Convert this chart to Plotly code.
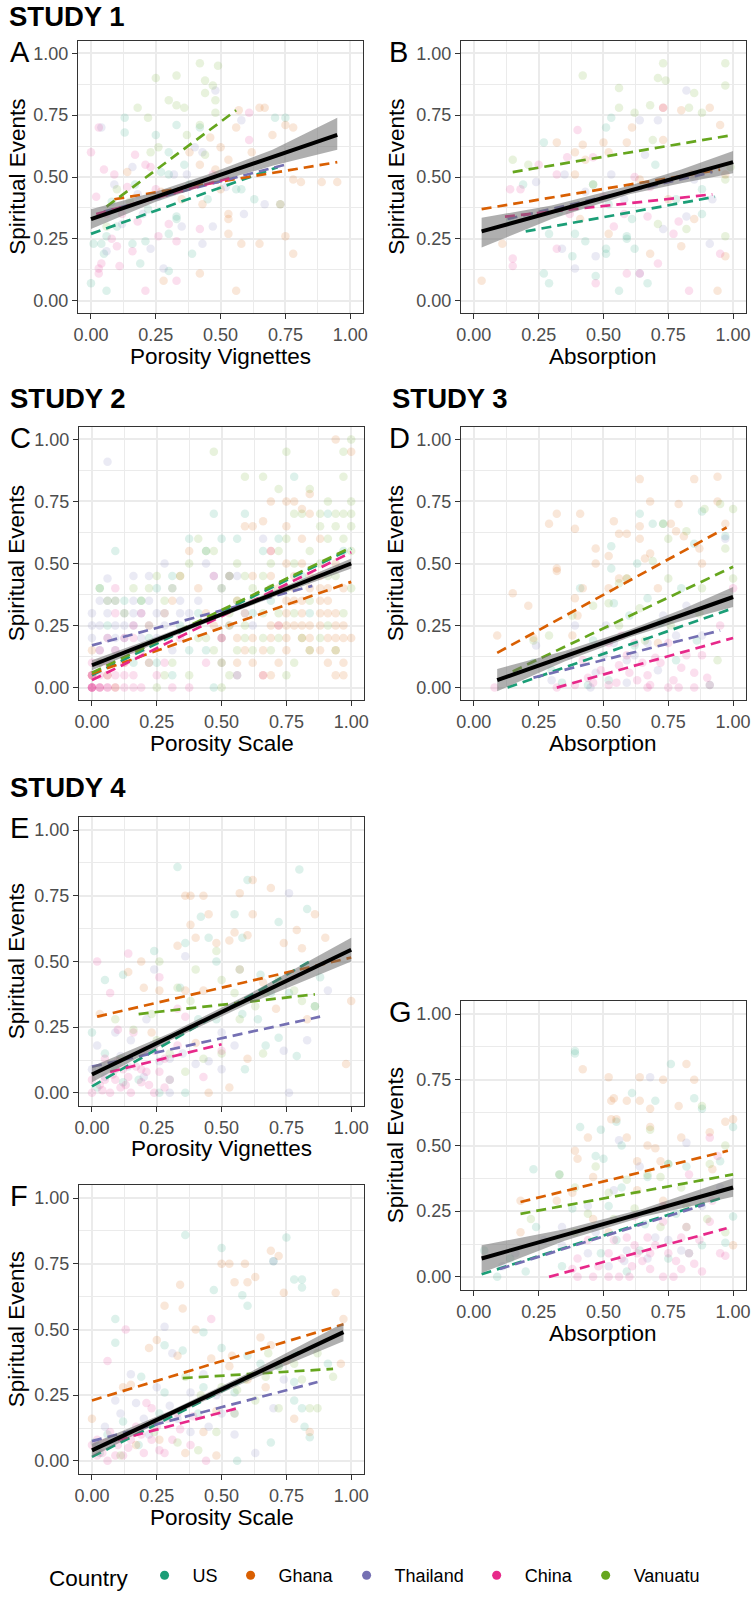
import plotly.graph_objects as go

W, H = 756, 1599
FONT = "Liberation Sans, Arial, sans-serif"

COUNTRIES = ["US", "Ghana", "Thailand", "China", "Vanuatu"]
COLORS = ["#1B9E77", "#D95F02", "#7570B3", "#E7298A", "#66A61E"]
TICK_VALS = [0, 0.25, 0.5, 0.75, 1.0]
TICK_TEXT = ["0.00", "0.25", "0.50", "0.75", "1.00"]
MINOR_TICKS = [0.125, 0.375, 0.625, 0.875]

# ---------------- Panel A : Study 1, Porosity Vignettes ----------------
A_US = [(0.13,0.74),(0.25,0.67),(0.33,0.71),(0.42,0.70),(0.30,0.60),(0.30,0.51),(0.13,0.68),(0.33,0.34),(0.33,0.33),(0.39,0.19),(0.56,0.45),(0.58,0.45),(0.63,0.41),(0.71,0.74),(0.75,0.74),(0.73,0.39),(0.06,0.26),(0.05,0.19),(0.00,0.07),(0.06,0.04),(0.04,0.23),(0.19,0.15),(0.21,0.24),(0.30,0.27),(0.01,0.23),(0.16,0.23),(0.30,0.12),(0.17,0.47),(0.36,0.55),(0.08,0.40),(0.10,0.30),(0.22,0.37),(0.27,0.52),(0.38,0.47),(0.45,0.41)]
A_GHANA = [(0.57,0.77),(0.65,0.78),(0.67,0.78),(0.75,0.71),(0.78,0.70),(0.56,0.70),(0.38,0.60),(0.42,0.55),(0.48,0.53),(0.50,0.62),(0.53,0.57),(0.78,0.49),(0.81,0.48),(0.89,0.48),(0.95,0.48),(0.73,0.39),(0.50,0.45),(0.53,0.35),(0.53,0.33),(0.53,0.27),(0.58,0.23),(0.65,0.23),(0.75,0.26),(0.78,0.19),(0.56,0.04),(0.42,0.11),(0.28,0.08),(0.35,0.41),(0.43,0.39),(0.70,0.67),(0.62,0.60),(0.46,0.66),(0.14,0.52),(0.27,0.44)]
A_THAILAND = [(0.04,0.70),(0.48,0.85),(0.58,0.73),(0.43,0.60),(0.32,0.51),(0.37,0.51),(0.26,0.42),(0.47,0.30),(0.20,0.35),(0.16,0.54),(0.59,0.35),(0.67,0.39),(0.43,0.23),(0.12,0.31),(0.28,0.13),(0.23,0.21),(0.40,0.62),(0.09,0.47),(0.06,0.20),(0.18,0.43),(0.35,0.30),(0.52,0.46)]
A_CHINA = [(0.00,0.60),(0.03,0.70),(0.05,0.53),(0.09,0.51),(0.17,0.59),(0.21,0.55),(0.03,0.13),(0.03,0.11),(0.11,0.14),(0.21,0.04),(0.23,0.54),(0.25,0.45),(0.33,0.24),(0.33,0.08),(0.30,0.31),(0.47,0.51),(0.61,0.76),(0.61,0.65),(0.42,0.29),(0.06,0.35),(0.04,0.15),(0.12,0.35),(0.08,0.25),(0.16,0.20),(0.02,0.42),(0.10,0.22),(0.18,0.32),(0.26,0.26),(0.14,0.46)]
A_VANUATU = [(0.42,0.96),(0.49,0.95),(0.33,0.91),(0.25,0.90),(0.44,0.89),(0.47,0.87),(0.44,0.84),(0.30,0.81),(0.33,0.79),(0.18,0.78),(0.48,0.81),(0.22,0.74),(0.36,0.78),(0.37,0.67),(0.42,0.71),(0.48,0.76),(0.26,0.62),(0.23,0.60),(0.44,0.59),(0.06,0.30),(0.10,0.45),(0.15,0.40)]
A_LINES = [(0.00,0.27,0.72,0.54),(0.09,0.41,0.95,0.56),(0.05,0.36,0.75,0.55),(0.02,0.35,0.55,0.50),(0.06,0.38,0.56,0.77)]
A_FIT = (0.00, 0.33, 0.95, 0.67)
A_CI_X = [0.00, 0.25, 0.45, 0.70, 0.95]
A_CI_LO = [0.29, 0.40, 0.47, 0.545, 0.61]
A_CI_HI = [0.37, 0.44, 0.51, 0.61, 0.74]

# ---------------- Panel B : Study 1, Absorption ----------------
B_US = [(0.53,0.74),(0.51,0.70),(0.27,0.64),(0.29,0.27),(0.38,0.18),(0.27,0.11),(0.29,0.07),(0.51,0.19),(0.56,0.04),(0.51,0.21),(0.59,0.26),(0.59,0.25),(0.67,0.07),(0.78,0.41),(0.88,0.35),(0.88,0.45),(0.47,0.10),(0.62,0.21),(0.19,0.47),(0.14,0.33),(0.39,0.27),(0.46,0.47),(0.52,0.39),(0.33,0.36),(0.43,0.24),(0.61,0.33),(0.70,0.55)]
B_GHANA = [(0.03,0.08),(0.11,0.23),(0.32,0.64),(0.39,0.60),(0.42,0.63),(0.50,0.64),(0.43,0.57),(0.52,0.60),(0.59,0.64),(0.61,0.70),(0.73,0.78),(0.80,0.77),(0.91,0.78),(0.95,0.71),(0.97,0.51),(0.97,0.18),(0.94,0.04),(0.80,0.22),(0.68,0.19),(0.52,0.27),(0.41,0.33),(0.39,0.51),(0.85,0.33),(0.75,0.41),(0.73,0.65),(0.64,0.49),(0.84,0.51)]
B_THAILAND = [(0.82,0.85),(0.64,0.73),(0.71,0.73),(0.35,0.51),(0.53,0.51),(0.24,0.48),(0.92,0.41),(0.91,0.23),(0.73,0.29),(0.64,0.11),(0.34,0.21),(0.39,0.13),(0.82,0.34),(0.85,0.49),(0.47,0.18),(0.58,0.41),(0.66,0.59),(0.43,0.44)]
B_CHINA = [(0.14,0.45),(0.18,0.45),(0.15,0.17),(0.15,0.14),(0.40,0.69),(0.46,0.58),(0.25,0.55),(0.32,0.51),(0.32,0.21),(0.47,0.07),(0.59,0.11),(0.64,0.11),(0.67,0.34),(0.68,0.46),(0.71,0.15),(0.83,0.04),(0.95,0.19),(0.79,0.32),(0.73,0.78),(0.62,0.50),(0.37,0.35),(0.54,0.30),(0.36,0.58),(0.50,0.42),(0.58,0.35),(0.77,0.27)]
B_VANUATU = [(0.97,0.96),(0.97,0.87),(0.73,0.96),(0.71,0.90),(0.74,0.89),(0.42,0.91),(0.56,0.86),(0.85,0.84),(0.68,0.79),(0.83,0.78),(0.88,0.76),(0.56,0.78),(0.62,0.76),(0.97,0.49),(0.99,0.54),(0.69,0.65),(0.15,0.57),(0.21,0.55),(0.97,0.26),(0.82,0.29),(0.71,0.31),(0.46,0.47)]
B_LINES = [(0.20,0.28,0.93,0.42),(0.03,0.37,0.95,0.53),(0.13,0.33,0.92,0.52),(0.12,0.34,0.92,0.43),(0.15,0.52,1.00,0.67)]
B_FIT = (0.03, 0.28, 1.00, 0.56)
B_CI_X = [0.03, 0.30, 0.60, 0.80, 1.00]
B_CI_LO = [0.215, 0.33, 0.43, 0.475, 0.515]
B_CI_HI = [0.335, 0.385, 0.465, 0.53, 0.605]

# ---------------- Panel C : Study 2, Porosity Scale ----------------
C_US = [(0.03,0.40),(0.09,0.55),(0.19,0.35),(0.25,0.40),(0.31,0.45),(0.375,0.60),(0.44,0.55),(0.47,0.70),(0.50,0.60),(0.53,0.45),(0.56,0.60),(0.59,0.70),(0.66,0.55),(0.78,0.85),(0.72,0.60),(0.375,0.15),(0.44,0.15),(0.25,0.10),(0.31,0.05),(0.50,0.10),(0.56,0.05),(0.62,0.30),(0.69,0.35),(0.81,0.45),(0.84,0.30),(0.91,0.70),(0.97,0.55),(0.22,0.20),(0.16,0.10),(0.125,0.35),(0.06,0.25),(0.34,0.25),(0.41,0.30),(0.47,0.00),(0.53,0.25)]
C_GHANA = [(1.00,0.95),(0.94,1.00),(0.84,0.78),(0.75,0.75),(0.78,0.75),(0.81,0.72),(0.84,0.70),(0.88,0.60),(0.59,0.65),(0.62,0.65),(0.66,0.67),(0.69,0.55),(0.75,0.50),(0.78,0.45),(0.81,0.50),(0.84,0.45),(0.88,0.40),(0.91,0.35),(0.94,0.30),(0.97,0.25),(1.00,0.20),(0.50,0.20),(0.53,0.25),(0.56,0.20),(0.59,0.15),(0.62,0.10),(0.66,0.05),(0.69,0.20),(0.72,0.25),(0.75,0.30),(0.78,0.25),(0.81,0.20),(0.84,0.25),(0.88,0.25),(0.91,0.20),(0.94,0.15),(0.97,0.10),(0.75,0.15),(0.72,0.10),(0.69,0.05),(0.66,0.15),(0.59,0.30),(0.56,0.35),(0.44,0.30),(0.41,0.40),(0.375,0.55),(0.34,0.45),(0.31,0.35),(0.28,0.30),(0.22,0.25),(0.00,0.15),(0.00,0.05),(0.03,0.10),(0.06,0.05),(0.09,0.00),(0.125,0.10),(0.78,0.35),(0.84,0.15),(0.94,0.20),(0.75,0.20),(0.81,0.30),(0.88,0.30),(0.91,0.40),(0.97,0.40),(0.62,0.45),(0.69,0.45),(0.72,0.40),(0.75,0.25),(0.81,0.25),(0.84,0.20),(0.88,0.15),(0.94,0.05),(0.97,0.05),(0.91,0.10),(0.56,0.10),(0.50,0.10),(0.47,0.25),(0.62,0.20),(0.69,0.25),(0.75,0.35),(0.78,0.40),(0.81,0.35),(0.84,0.40),(0.88,0.35),(0.91,0.30),(0.94,0.25),(0.97,0.20),(0.88,0.45),(0.94,0.50),(0.81,0.60),(0.75,0.65),(0.69,0.75)]
C_THAILAND = [(0.06,0.91),(0.00,0.30),(0.00,0.25),(0.03,0.25),(0.03,0.35),(0.06,0.30),(0.06,0.44),(0.09,0.25),(0.09,0.35),(0.125,0.30),(0.16,0.45),(0.16,0.25),(0.19,0.30),(0.22,0.35),(0.25,0.30),(0.28,0.30),(0.31,0.40),(0.34,0.35),(0.375,0.30),(0.41,0.35),(0.47,0.45),(0.50,0.40),(0.56,0.45),(0.59,0.30),(0.62,0.25),(0.03,0.15),(0.06,0.20),(0.125,0.20),(0.19,0.20),(0.25,0.20),(0.31,0.15),(0.50,0.20),(0.22,0.45),(0.28,0.50),(0.44,0.50),(0.66,0.60),(0.03,0.10),(0.09,0.15),(0.125,0.25),(0.16,0.35),(0.00,0.20),(0.34,0.30),(0.09,0.20),(0.16,0.30),(0.22,0.25),(0.28,0.25),(0.06,0.35)]
C_CHINA = [(0.00,0.00),(0.00,0.00),(0.00,0.00),(0.00,0.00),(0.03,0.00),(0.03,0.00),(0.06,0.00),(0.06,0.00),(0.09,0.00),(0.125,0.00),(0.16,0.00),(0.19,0.00),(0.00,0.05),(0.00,0.05),(0.03,0.05),(0.06,0.05),(0.09,0.05),(0.125,0.05),(0.16,0.05),(0.00,0.10),(0.06,0.10),(0.09,0.15),(0.125,0.20),(0.16,0.20),(0.19,0.15),(0.03,0.15),(0.22,0.10),(0.25,0.05),(0.31,0.00),(0.375,0.00),(0.06,0.20),(0.09,0.30),(0.16,0.25),(0.19,0.30),(0.28,0.10),(0.34,0.20),(0.44,0.10),(0.50,0.20),(0.56,0.05),(0.66,0.05),(0.69,0.55),(0.72,0.25),(0.09,0.40),(0.53,0.45),(0.47,0.45),(0.00,0.00),(0.03,0.00),(0.00,0.05),(0.125,0.10),(0.16,0.15)]
C_VANUATU = [(0.47,0.95),(0.75,0.95),(0.97,0.95),(0.59,0.85),(0.66,0.85),(0.97,0.85),(0.72,0.80),(0.84,0.80),(0.91,0.75),(1.00,1.00),(1.00,0.75),(1.00,0.70),(1.00,0.65),(0.97,0.70),(0.94,0.70),(0.88,0.65),(0.91,0.60),(0.81,0.70),(0.78,0.70),(0.75,0.60),(0.72,0.55),(0.69,0.50),(0.66,0.45),(0.62,0.40),(0.59,0.45),(0.56,0.35),(0.53,0.45),(0.50,0.40),(0.47,0.55),(0.44,0.55),(0.41,0.60),(0.375,0.50),(0.34,0.45),(0.31,0.40),(0.28,0.35),(0.25,0.45),(0.22,0.40),(0.19,0.35),(0.16,0.40),(0.125,0.30),(0.09,0.35),(0.06,0.35),(0.03,0.40),(0.91,0.25),(0.94,0.15),(0.88,0.20),(0.84,0.15),(0.81,0.20),(0.78,0.10),(0.75,0.05),(0.72,0.20),(0.69,0.15),(0.66,0.20),(0.62,0.15),(0.59,0.20),(0.56,0.15),(0.53,0.05),(0.50,0.00),(0.47,0.15),(0.44,0.20),(0.41,0.20),(0.375,0.05),(0.31,0.10),(0.28,0.05),(0.25,0.00),(0.22,0.10),(0.97,0.30),(1.00,0.40),(0.94,0.45),(0.84,0.35),(0.78,0.30),(0.72,0.30),(0.66,0.30),(0.59,0.25),(0.53,0.30),(1.00,0.55),(0.97,0.60),(0.88,0.50),(0.75,0.40),(0.69,0.40),(0.62,0.35),(0.56,0.50),(0.88,0.70),(0.94,0.65),(0.84,0.55),(0.78,0.50),(0.91,0.45)]
C_LINES = [(0.00,0.05,1.00,0.56),(0.00,0.056,1.00,0.426),(0.00,0.17,0.85,0.41),(0.00,0.03,1.00,0.545),(0.00,0.06,1.00,0.565)]
C_FIT = (0.00, 0.09, 1.00, 0.50)
C_CI_X = [0.00, 0.25, 0.50, 0.75, 1.00]
C_CI_LO = [0.07, 0.18, 0.285, 0.385, 0.48]
C_CI_HI = [0.11, 0.205, 0.305, 0.41, 0.52]

# ---------------- Panel D : Study 3, Absorption ----------------
D_US = [(0.64,0.70),(0.69,0.66),(0.73,0.66),(0.53,0.57),(0.53,0.48),(0.41,0.40),(0.54,0.34),(0.63,0.50),(0.67,0.36),(0.85,0.58),(0.88,0.71),(0.97,0.61),(0.23,0.10),(0.30,0.07),(0.34,0.02),(0.44,0.01),(0.52,0.03),(0.91,0.01),(0.86,0.19),(0.78,0.11),(0.62,0.17),(0.46,0.19),(0.72,0.26),(0.80,0.40),(0.60,0.29)]
D_GHANA = [(0.09,0.21),(0.15,0.38),(0.21,0.33),(0.29,0.66),(0.32,0.70),(0.41,0.70),(0.39,0.64),(0.32,0.48),(0.32,0.47),(0.39,0.36),(0.40,0.29),(0.38,0.21),(0.47,0.56),(0.47,0.50),(0.52,0.53),(0.54,0.67),(0.56,0.62),(0.56,0.44),(0.59,0.62),(0.64,0.84),(0.64,0.65),(0.64,0.60),(0.68,0.75),(0.68,0.54),(0.71,0.40),(0.76,0.66),(0.79,0.74),(0.78,0.63),(0.81,0.61),(0.85,0.84),(0.87,0.56),(0.88,0.50),(0.94,0.85),(0.94,0.75),(0.97,0.66),(0.52,0.40),(0.59,0.44),(0.42,0.40),(0.23,0.20),(0.66,0.52),(0.71,0.18)]
D_THAILAND = [(0.24,0.17),(0.39,0.25),(0.45,0.00),(0.51,0.25),(0.54,0.18),(0.59,0.11),(0.67,0.18),(0.73,0.29),(0.82,0.33),(0.97,0.60),(0.37,0.13),(0.47,0.06),(0.59,0.02),(0.71,0.07),(0.88,0.21),(0.30,0.03),(0.62,0.13),(0.78,0.21),(0.50,0.13)]
D_CHINA = [(0.08,0.00),(0.32,0.00),(0.39,0.01),(0.44,0.04),(0.49,0.07),(0.52,0.01),(0.56,0.09),(0.59,0.13),(0.63,0.03),(0.67,0.05),(0.68,0.01),(0.72,0.10),(0.75,0.18),(0.77,0.03),(0.79,0.00),(0.82,0.13),(0.85,0.06),(0.88,0.13),(0.91,0.01),(0.95,0.25),(1.00,0.40),(0.42,0.11),(0.57,0.21),(0.67,0.00),(0.52,0.18),(0.75,0.00),(0.85,0.00),(0.62,0.18),(0.46,0.02),(0.55,0.02),(0.60,0.06),(0.70,0.12),(0.80,0.08),(0.90,0.04),(0.65,0.10)]
D_VANUATU = [(0.95,0.74),(1.00,0.72),(0.89,0.72),(0.73,0.66),(0.75,0.60),(0.82,0.63),(0.97,0.56),(1.00,0.44),(0.69,0.51),(0.59,0.44),(0.56,0.42),(0.52,0.34),(0.46,0.33),(0.38,0.29),(0.29,0.21),(0.23,0.19),(0.66,0.19),(0.76,0.25),(0.87,0.30),(0.94,0.11),(0.75,0.44),(0.88,0.40),(0.64,0.32),(0.56,0.25)]
D_LINES = [(0.13,0.00,1.00,0.32),(0.09,0.14,0.975,0.645),(0.23,0.04,0.95,0.23),(0.32,0.00,1.00,0.20),(0.15,0.065,1.00,0.487)]
D_FIT = (0.09, 0.03, 1.00, 0.365)
D_CI_X = [0.09, 0.35, 0.60, 0.80, 1.00]
D_CI_LO = [-0.015, 0.105, 0.203, 0.268, 0.325]
D_CI_HI = [0.075, 0.147, 0.233, 0.314, 0.405]

# ---------------- Panel E : Study 4, Porosity Vignettes ----------------
E_US = [(0.33,0.86),(0.80,0.85),(0.60,0.81),(0.55,0.68),(0.72,0.65),(0.83,0.70),(0.05,0.43),(0.12,0.45),(0.24,0.54),(0.36,0.57),(0.42,0.67),(0.45,0.59),(0.48,0.50),(0.58,0.59),(0.57,0.47),(0.58,0.30),(0.64,0.28),(0.67,0.18),(0.72,0.21),(0.79,0.14),(0.59,0.09),(0.34,0.40),(0.76,0.38),(0.65,0.45),(0.69,0.38),(0.00,0.23),(0.05,0.15),(0.09,0.09),(0.18,0.05),(0.26,0.00),(0.36,0.00),(0.48,0.28),(0.41,0.28),(0.88,0.44),(0.86,0.33),(0.02,0.02),(0.12,0.04),(0.30,0.05)]
E_GHANA = [(0.36,0.75),(0.38,0.75),(0.43,0.75),(0.57,0.76),(0.62,0.81),(0.69,0.78),(0.86,0.68),(0.62,0.68),(0.45,0.68),(0.38,0.64),(0.40,0.59),(0.33,0.56),(0.48,0.57),(0.53,0.58),(0.55,0.61),(0.60,0.60),(0.74,0.57),(0.79,0.62),(0.81,0.55),(0.90,0.59),(0.19,0.50),(0.14,0.46),(0.20,0.40),(0.26,0.39),(0.36,0.39),(0.43,0.39),(0.57,0.47),(0.66,0.42),(0.71,0.32),(0.83,0.28),(0.98,0.11),(1.00,0.35),(0.45,0.00),(0.60,0.13),(0.53,0.02),(0.40,0.19),(0.03,0.30),(0.23,0.23)]
E_THAILAND = [(0.76,0.76),(0.36,0.52),(0.24,0.47),(0.91,0.39),(0.83,0.20),(0.74,0.16),(0.55,0.18),(0.50,0.23),(0.45,0.12),(0.40,0.11),(0.35,0.15),(0.30,0.13),(0.21,0.16),(0.15,0.20),(0.09,0.23),(0.02,0.18),(0.00,0.09),(0.05,0.06),(0.11,0.14),(0.21,0.28),(0.30,0.00),(0.76,0.00),(0.50,0.09),(0.04,0.10),(0.14,0.10),(0.20,0.06),(0.26,0.12)]
E_CHINA = [(0.02,0.50),(0.07,0.38),(0.14,0.53),(0.26,0.44),(0.33,0.32),(0.36,0.29),(0.10,0.24),(0.16,0.23),(0.20,0.16),(0.05,0.13),(0.09,0.05),(0.14,0.06),(0.19,0.04),(0.24,0.00),(0.00,0.05),(0.04,0.01),(0.11,0.02),(0.15,0.00),(0.21,0.08),(0.28,0.13),(0.43,0.06),(0.50,0.16),(0.33,0.18),(0.26,0.08),(0.07,0.00),(0.00,0.00),(0.05,0.05),(0.12,0.09),(0.19,0.09),(0.30,0.05),(0.24,0.16),(0.03,0.03),(0.08,0.07),(0.13,0.03),(0.17,0.10),(0.22,0.03),(0.28,0.02),(0.10,0.12)]
E_VANUATU = [(0.48,0.54),(0.40,0.47),(0.26,0.50),(0.33,0.40),(0.38,0.35),(0.50,0.43),(0.55,0.38),(0.57,0.28),(0.63,0.33),(0.67,0.38),(0.72,0.43),(0.78,0.39),(0.81,0.35),(0.86,0.33),(0.23,0.30),(0.16,0.24),(0.09,0.28),(0.25,0.20),(0.30,0.15),(0.36,0.08),(0.43,0.13),(0.50,0.15),(0.66,0.15),(0.11,0.13)]
E_LINES = [(0.00,0.025,0.84,0.50),(0.02,0.29,1.00,0.515),(0.00,0.10,0.88,0.29),(0.07,0.08,0.50,0.185),(0.18,0.30,0.86,0.375)]
E_FIT = (0.00, 0.07, 1.00, 0.545)
E_CI_X = [0.00, 0.30, 0.60, 0.80, 1.00]
E_CI_LO = [0.04, 0.198, 0.337, 0.42, 0.50]
E_CI_HI = [0.10, 0.227, 0.373, 0.48, 0.59]

# ---------------- Panel F : Study 4, Porosity Scale ----------------
F_US = [(0.36,0.86),(0.75,0.85),(0.50,0.81),(0.70,0.76),(0.78,0.69),(0.81,0.69),(0.81,0.66),(0.47,0.65),(0.58,0.63),(0.60,0.59),(0.09,0.54),(0.09,0.45),(0.28,0.44),(0.35,0.42),(0.43,0.49),(0.50,0.43),(0.60,0.40),(0.65,0.37),(0.72,0.36),(0.78,0.30),(0.81,0.20),(0.84,0.09),(0.69,0.07),(0.56,0.00),(0.91,0.37),(0.78,0.23),(0.82,0.13),(0.55,0.26),(0.43,0.28),(0.28,0.26),(0.19,0.32),(0.01,0.07),(0.06,0.10),(0.12,0.15),(0.41,0.18),(0.03,0.03),(0.18,0.06),(0.26,0.18)]
F_GHANA = [(0.50,0.75),(0.53,0.75),(0.59,0.75),(0.69,0.80),(0.72,0.78),(0.55,0.68),(0.60,0.68),(0.63,0.70),(0.74,0.64),(0.94,0.64),(0.34,0.67),(0.28,0.59),(0.35,0.58),(0.40,0.50),(0.25,0.46),(0.22,0.43),(0.12,0.28),(0.15,0.29),(0.33,0.40),(0.46,0.39),(0.54,0.40),(0.65,0.47),(0.69,0.44),(0.75,0.38),(0.78,0.16),(0.84,0.11),(0.96,0.37),(0.97,0.54),(0.53,0.36),(0.60,0.31),(0.67,0.28),(0.48,0.19),(0.43,0.11),(0.36,0.03),(0.26,0.08),(0.00,0.16),(0.48,0.02),(0.17,0.06)]
F_THAILAND = [(0.70,0.76),(0.28,0.51),(0.31,0.41),(0.43,0.33),(0.48,0.25),(0.55,0.18),(0.63,0.03),(0.70,0.20),(0.74,0.31),(0.25,0.28),(0.17,0.22),(0.11,0.18),(0.05,0.13),(0.02,0.06),(0.09,0.23),(0.20,0.16),(0.30,0.21),(0.38,0.11),(0.45,0.13),(0.55,0.10),(0.15,0.33),(0.38,0.26),(0.08,0.08),(0.22,0.10),(0.33,0.16),(0.50,0.18)]
F_CHINA = [(0.13,0.50),(0.06,0.38),(0.21,0.22),(0.23,0.20),(0.29,0.16),(0.33,0.18),(0.46,0.54),(0.17,0.13),(0.15,0.08),(0.10,0.06),(0.06,0.00),(0.02,0.02),(0.00,0.06),(0.12,0.02),(0.20,0.03),(0.26,0.04),(0.31,0.08),(0.38,0.06),(0.44,0.00),(0.05,0.07),(0.07,0.11),(0.23,0.08),(0.25,0.13),(0.39,0.17),(0.02,0.08),(0.09,0.02),(0.04,0.03),(0.14,0.05),(0.19,0.10),(0.28,0.03),(0.34,0.12)]
F_VANUATU = [(0.36,0.32),(0.42,0.25),(0.50,0.28),(0.56,0.27),(0.59,0.31),(0.67,0.32),(0.72,0.36),(0.78,0.37),(0.81,0.31),(0.87,0.41),(0.93,0.32),(0.63,0.23),(0.55,0.18),(0.48,0.11),(0.33,0.07),(0.24,0.11),(0.72,0.20),(0.84,0.20),(0.87,0.20),(0.68,0.41),(0.11,0.02),(0.41,0.04)]
F_LINES = [(0.00,0.015,0.80,0.415),(0.00,0.23,0.97,0.52),(0.00,0.075,0.87,0.30),(0.10,0.08,0.56,0.20),(0.35,0.315,0.93,0.35)]
F_FIT = (0.00, 0.04, 0.97, 0.49)
F_CI_X = [0.00, 0.30, 0.60, 0.97]
F_CI_LO = [0.015, 0.168, 0.303, 0.455]
F_CI_HI = [0.065, 0.19, 0.333, 0.525]

# ---------------- Panel G : Study 4, Absorption ----------------
G_US = [(0.39,0.86),(0.39,0.85),(0.76,0.81),(0.61,0.70),(0.85,0.68),(0.88,0.64),(0.70,0.67),(0.55,0.59),(0.41,0.57),(0.49,0.56),(0.47,0.46),(0.50,0.45),(0.57,0.50),(0.23,0.41),(0.33,0.39),(0.24,0.19),(0.38,0.26),(0.52,0.27),(0.57,0.34),(0.67,0.38),(0.75,0.43),(0.82,0.42),(0.95,0.44),(1.00,0.57),(1.00,0.23),(0.97,0.13),(0.88,0.12),(0.83,0.09),(0.75,0.07),(0.64,0.10),(0.59,0.02),(0.49,0.09),(0.34,0.04),(0.20,0.02),(0.09,0.00),(0.04,0.10),(0.14,0.07),(0.66,0.20),(0.78,0.24),(0.55,0.14)]
G_GHANA = [(0.42,0.79),(0.82,0.81),(0.52,0.76),(0.64,0.76),(0.73,0.75),(0.85,0.75),(0.53,0.67),(0.54,0.68),(0.59,0.67),(0.64,0.67),(0.68,0.64),(0.79,0.65),(0.53,0.60),(0.55,0.60),(0.59,0.53),(0.44,0.53),(0.39,0.48),(0.40,0.45),(0.46,0.38),(0.38,0.32),(0.32,0.29),(0.18,0.17),(0.18,0.29),(0.46,0.22),(0.63,0.44),(0.67,0.50),(0.70,0.49),(0.72,0.44),(0.91,0.55),(0.97,0.59),(1.00,0.60),(1.00,0.12),(0.82,0.19),(0.73,0.29),(0.63,0.33),(0.52,0.17),(0.80,0.53),(0.92,0.41),(0.68,0.57)]
G_THAILAND = [(0.68,0.76),(0.82,0.51),(0.56,0.52),(0.64,0.42),(0.54,0.33),(0.44,0.27),(0.34,0.19),(0.27,0.14),(0.16,0.09),(0.11,0.04),(0.44,0.09),(0.52,0.04),(0.59,0.10),(0.67,0.07),(0.75,0.14),(0.82,0.19),(0.88,0.27),(0.95,0.34),(0.34,0.12),(0.47,0.17),(0.58,0.06),(0.70,0.15),(0.80,0.10)]
G_CHINA = [(0.91,0.53),(0.94,0.46),(0.83,0.39),(0.62,0.23),(0.63,0.09),(0.73,0.27),(0.73,0.21),(0.54,0.14),(0.52,0.09),(0.44,0.14),(0.40,0.07),(0.40,0.00),(0.46,0.00),(0.52,0.00),(0.56,0.00),(0.61,0.04),(0.68,0.03),(0.73,0.00),(0.77,0.00),(0.80,0.03),(0.83,0.09),(0.87,0.14),(0.91,0.21),(0.95,0.09),(0.97,0.08),(0.59,0.15),(0.67,0.15),(0.80,0.15),(0.68,0.09),(0.75,0.09),(0.57,0.07),(0.48,0.04),(0.85,0.05),(0.92,0.29),(0.38,0.03),(0.60,0.00),(0.65,0.06),(0.70,0.12),(0.78,0.06),(0.88,0.02),(0.62,0.12)]
G_VANUATU = [(0.33,0.39),(0.39,0.34),(0.47,0.42),(0.52,0.32),(0.59,0.37),(0.67,0.39),(0.72,0.38),(0.75,0.43),(0.80,0.34),(0.91,0.43),(0.97,0.50),(0.97,0.17),(0.90,0.22),(0.82,0.27),(0.72,0.19),(0.62,0.26),(0.54,0.22),(0.44,0.24),(0.39,0.17),(0.22,0.22),(0.68,0.56),(0.88,0.65)]
G_LINES = [(0.03,0.01,0.97,0.305),(0.18,0.285,0.98,0.48),(0.10,0.03,0.89,0.275),(0.29,0.00,0.975,0.185),(0.18,0.24,1.00,0.39)]
G_FIT = (0.03, 0.07, 1.00, 0.34)
G_CI_X = [0.03, 0.35, 0.65, 1.00]
G_CI_LO = [0.015, 0.137, 0.228, 0.305]
G_CI_HI = [0.12, 0.181, 0.258, 0.375]

# ---------------- layout description (pixel boxes: left, top, right, bottom) ----------------
PANELS = [
    dict(letter="A", box=(74, 41, 363, 313), xtitle="Porosity Vignettes", xt_y=357,
         pts=[A_US, A_GHANA, A_THAILAND, A_CHINA, A_VANUATU], lines=A_LINES, fit=A_FIT,
         ci=(A_CI_X, A_CI_LO, A_CI_HI)),
    dict(letter="B", box=(462, 41, 751, 313), xtitle="Absorption", xt_y=357,
         pts=[B_US, B_GHANA, B_THAILAND, B_CHINA, B_VANUATU], lines=B_LINES, fit=B_FIT,
         ci=(B_CI_X, B_CI_LO, B_CI_HI)),
    dict(letter="C", box=(75, 427, 364, 700), xtitle="Porosity Scale", xt_y=743,
         pts=[C_US, C_GHANA, C_THAILAND, C_CHINA, C_VANUATU], lines=C_LINES, fit=C_FIT,
         ci=(C_CI_X, C_CI_LO, C_CI_HI)),
    dict(letter="D", box=(462, 427, 751, 700), xtitle="Absorption", xt_y=743,
         pts=[D_US, D_GHANA, D_THAILAND, D_CHINA, D_VANUATU], lines=D_LINES, fit=D_FIT,
         ci=(D_CI_X, D_CI_LO, D_CI_HI)),
    dict(letter="E", box=(75, 817, 364, 1106), xtitle="Porosity Vignettes", xt_y=1148,
         pts=[E_US, E_GHANA, E_THAILAND, E_CHINA, E_VANUATU], lines=E_LINES, fit=E_FIT,
         ci=(E_CI_X, E_CI_LO, E_CI_HI)),
    dict(letter="F", box=(75, 1185, 364, 1474), xtitle="Porosity Scale", xt_y=1517,
         pts=[F_US, F_GHANA, F_THAILAND, F_CHINA, F_VANUATU], lines=F_LINES, fit=F_FIT,
         ci=(F_CI_X, F_CI_LO, F_CI_HI)),
    dict(letter="G", box=(462, 1001, 751, 1290), xtitle="Absorption", xt_y=1333,
         pts=[G_US, G_GHANA, G_THAILAND, G_CHINA, G_VANUATU], lines=G_LINES, fit=G_FIT,
         ci=(G_CI_X, G_CI_LO, G_CI_HI)),
]
STUDIES = [("STUDY 2", 3, 398), ("STUDY 3", 390, 398), ("STUDY 4", 3, 787)]


def px(x):
    return x / W


def py(y):
    return 1 - y / H


fig = go.Figure()
annotations = []
layout_axes = {}

for i, P in enumerate(PANELS):
    n = i + 1
    xa = "x" if n == 1 else f"x{n}"
    ya = "y" if n == 1 else f"y{n}"
    l, t, r, b = P["box"]
    axis_common = dict(
        range=[-0.05, 1.05], tickmode="array", tickvals=TICK_VALS, ticktext=TICK_TEXT,
        showgrid=True, gridcolor="#EBEBEB", gridwidth=1.6, zeroline=False,
        showline=True, mirror=True, linecolor="#333333", linewidth=1.2,
        ticks="outside", ticklen=5, tickwidth=1.2, tickcolor="#333333",
        tickfont=dict(family=FONT, size=18, color="#4D4D4D"),
        minor=dict(tickmode="array", tickvals=MINOR_TICKS, showgrid=True,
                   gridcolor="#EBEBEB", gridwidth=0.8, ticks=""),
        fixedrange=True,
    )
    layout_axes["xaxis" if n == 1 else f"xaxis{n}"] = dict(
        domain=[px(l), px(r)], anchor=ya, **axis_common)
    layout_axes["yaxis" if n == 1 else f"yaxis{n}"] = dict(
        domain=[py(b), py(t)], anchor=xa, **axis_common)

    # scatter points
    for c, pts in enumerate(P["pts"]):
        fig.add_trace(go.Scatter(
            x=[p[0] for p in pts], y=[p[1] for p in pts], mode="markers",
            marker=dict(color=COLORS[c], size=8.5, opacity=0.15, line=dict(width=0)),
            showlegend=False, hoverinfo="skip", xaxis=xa, yaxis=ya))
    # per-country dashed fits
    for c, (x0, y0, x1, y1) in enumerate(P["lines"]):
        fig.add_trace(go.Scatter(
            x=[x0, x1], y=[y0, y1], mode="lines",
            line=dict(color=COLORS[c], width=2.7, dash="10px,6px"),
            showlegend=False, hoverinfo="skip", xaxis=xa, yaxis=ya))
    # confidence ribbon
    cx, lo, hi = P["ci"]
    fig.add_trace(go.Scatter(
        x=list(cx) + list(cx)[::-1], y=list(hi) + list(lo)[::-1], mode="lines",
        fill="toself", fillcolor="rgba(110,110,110,0.55)", line=dict(width=0),
        showlegend=False, hoverinfo="skip", xaxis=xa, yaxis=ya))
    # overall fit
    x0, y0, x1, y1 = P["fit"]
    fig.add_trace(go.Scatter(
        x=[x0, x1], y=[y0, y1], mode="lines", line=dict(color="black", width=4),
        showlegend=False, hoverinfo="skip", xaxis=xa, yaxis=ya))

    # panel letter
    lx = 3 if l < 200 else 387
    annotations.append(dict(text=P["letter"], x=px(lx), y=py(t + 11), xref="paper", yref="paper",
                            xanchor="left", yanchor="middle", showarrow=False,
                            font=dict(family=FONT, size=29, color="black")))
    # axis titles
    annotations.append(dict(text=P["xtitle"], x=px((l + r) / 2), y=py(P["xt_y"]), xref="paper",
                            yref="paper", xanchor="center", yanchor="middle", showarrow=False,
                            font=dict(family=FONT, size=22.5, color="black")))
    ytx = 12 if l < 200 else 396
    annotations.append(dict(text="Spiritual Events", x=px(ytx), y=py((t + b) / 2), xref="paper",
                            yref="paper", xanchor="center", yanchor="middle", textangle=-90,
                            showarrow=False, font=dict(family=FONT, size=22.5, color="black")))

# study headings
annotations.append(dict(text="<b>STUDY 1</b>", x=px(3), y=1.0, xref="paper", yref="paper",
                        xanchor="left", yanchor="top", showarrow=False, borderpad=0,
                        font=dict(family=FONT, size=27.5, color="black")))
for text, sx, sy in STUDIES:
    annotations.append(dict(text=f"<b>{text}</b>", x=px(sx), y=py(sy), xref="paper", yref="paper",
                            xanchor="left", yanchor="middle", showarrow=False,
                            font=dict(family=FONT, size=27.5, color="black")))

# legend entries (solid keys)
for c, name in enumerate(COUNTRIES):
    fig.add_trace(go.Scatter(x=[None], y=[None], mode="markers", name=name,
                             marker=dict(color=COLORS[c], size=9), showlegend=True))

fig.update_layout(
    width=W, height=H, autosize=False,
    margin=dict(l=0, r=0, t=0, b=0),
    paper_bgcolor="white", plot_bgcolor="white",
    font=dict(family=FONT, color="black"),
    annotations=annotations,
    legend=dict(orientation="h", x=376 / W, xanchor="center", y=py(1577), yanchor="middle",
                title=dict(text="Country", side="left", font=dict(family=FONT, size=22.5)),
                font=dict(family=FONT, size=18, color="black"), itemwidth=46,
                bgcolor="rgba(0,0,0,0)"),
    **layout_axes,
)

fig.write_html(
    "out.html",
    config={"displayModeBar": False},
    post_script="document.body.style.margin='0';document.body.style.overflow='hidden';",
)
